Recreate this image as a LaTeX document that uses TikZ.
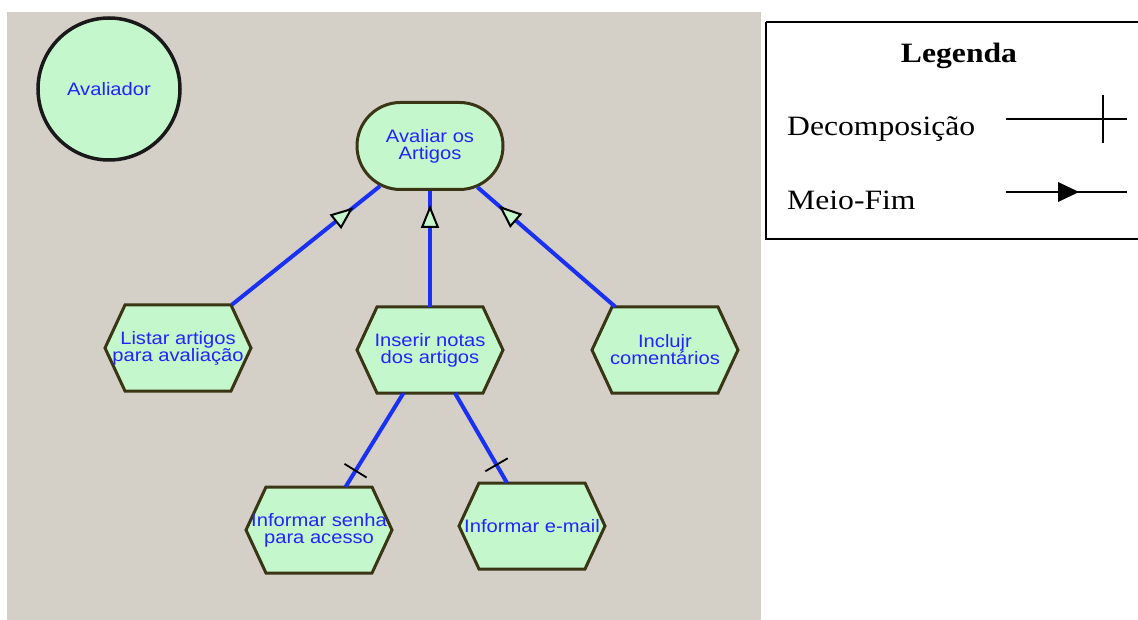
\documentclass[tikz,border=0pt]{standalone}
\usepackage{fontspec}
\newfontfamily\diagfont[FakeStretch=1.12]{Liberation Sans}
\newfontfamily\legfont[FakeStretch=1.13]{Liberation Serif}
\usetikzlibrary{shapes.misc, arrows.meta, decorations.markings}

\definecolor{canvas}{HTML}{D4D0C8}
\definecolor{mint}{HTML}{C4F7CC}
\definecolor{outline}{HTML}{3A3515}
\definecolor{labelblue}{HTML}{2323FF}
\definecolor{linkblue}{HTML}{1A30F5}

\tikzset{
  label text/.style={font={\diagfont\fontsize{18}{17}\selectfont}, text=labelblue, align=center},
  actor/.style={circle, draw=black!90, line width=3.5pt, fill=mint, minimum size=142pt,
    inner sep=0pt, label text},
  goalbox/.style={rounded rectangle, draw=outline, line width=3pt, fill=mint,
    minimum width=146pt, minimum height=87pt, inner sep=0pt, label text},
  hexshape/.style={draw=outline, fill=mint, line width=3pt, line join=miter},
  hexlabel/.style={rectangle, minimum width=146pt, minimum height=86pt, inner sep=0pt, label text},
  link/.style={draw=linkblue, line width=4pt},
  meansend/.style={postaction={decorate, decoration={markings,
    mark=at position #1 with {\arrow{Triangle[length=23pt, width=18pt, color=black, fill=mint, line width=2pt]}}}}},
  decomp/.style={postaction={decorate, decoration={markings,
    mark=at position #1 with {\draw[black, line width=1.8pt] (0pt,-13pt) -- (0pt,13pt);}}}},
  legtext/.style={font={\legfont\fontsize{28}{30}\selectfont}, inner sep=0pt},
}

% hexagonal task: name, x, y, text
\newcommand\taskhex[4]{%
  \path[hexshape] (#2-73,#3) -- (#2-53,#3-43) -- (#2+53,#3-43) -- (#2+73,#3)
    -- (#2+53,#3+43) -- (#2-53,#3+43) -- cycle;
  \node[hexlabel] (#1) at (#2,#3) {#4};}

\begin{document}
\begin{tikzpicture}[x=1pt, y=-1pt]
\useasboundingbox (0,0) rectangle (1138,620);
\fill[canvas] (7,12) rectangle (761,620);

% actor
\node[actor] (avaliador) at (109,89) {Avaliador};

% main goal
\node[goalbox] (goal) at (430,146) {Avaliar os\\Artigos};

% tasks
\taskhex{listar}{178}{348}{Listar artigos\\para avaliação}
\taskhex{inserir}{430}{350}{Inserir notas\\dos artigos}
\taskhex{incluir}{665}{350}{Inclujr\\comentários}
\taskhex{senha}{319}{530}{Informar senha\\para acesso}
\taskhex{email}{532}{526}{Informar e-mail}

% means-end links
\draw[link, meansend=0.82] (listar) -- (goal);
\draw[link, meansend=0.88] (inserir) -- (goal);
\draw[link, meansend=0.845] (incluir) -- (goal);

% decomposition links
\draw[link, decomp=0.83] (inserir) -- (senha);
\draw[link, decomp=0.80] (inserir) -- (email);

% legend
\draw[black, line width=2pt] (766,22) -- (1142,22) (766,22) -- (766,239) -- (1142,239);
\node[font={\legfont\bfseries\fontsize{28}{30}\selectfont}, inner sep=0pt, anchor=base]
  (legtitle) at (959,63) {Legenda};
\node[legtext, anchor=base west] (legdec) at (787,136) {Decomposição};
\node[legtext, anchor=base west] (legme) at (787,210) {Meio-Fim};

\coordinate (d1) at (1006,119);
\coordinate (d2) at (1127,119);
\coordinate (d3) at (1103,95);
\coordinate (d4) at (1103,143);
\draw[line width=1.3pt] (d1) -- (d2) (d3) -- (d4);

\coordinate (m1) at (1006,192);
\coordinate (m2) at (1127,192);
\draw[line width=1.3pt] (m1) -- (m2);
\fill[black] (1058,182) -- (1079,192) -- (1058,202) -- cycle;
\end{tikzpicture}
\end{document}
